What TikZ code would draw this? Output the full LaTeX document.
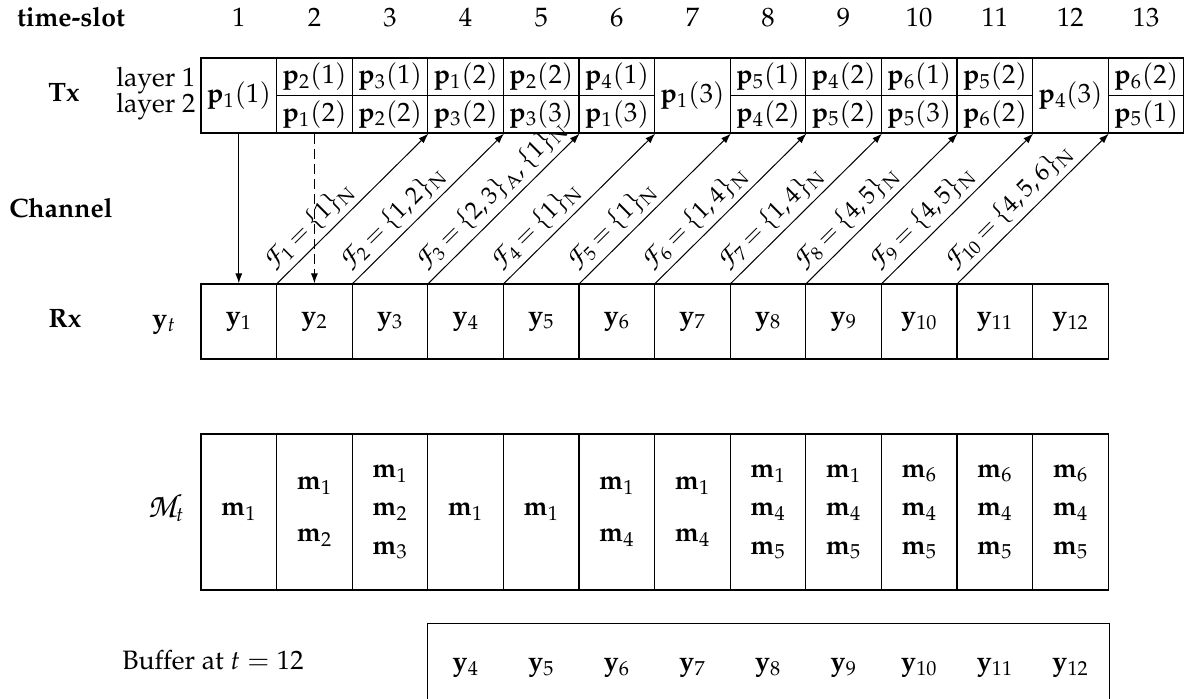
\documentclass[tikz,border=0pt]{standalone}
\usepackage[T1]{fontenc}
\usepackage{mathpazo}
\usetikzlibrary{arrows.meta}
\newcommand{\zc}[1]{\mbox{\fontsize{14.5}{14.5}\usefont{OT1}{pzc}{mb}{it}#1}}
\newcommand{\zcM}{\mbox{\fontsize{17}{17}\usefont{OT1}{pzc}{mb}{it}M}}
\newcommand{\pp}[2]{$\mathbf{p}_{#1}(#2)$}
\newcommand{\mm}[1]{$\mathbf{m}_{#1}$}
\newcommand{\yy}[1]{$\mathbf{y}_{#1}$}
\begin{document}
\begin{tikzpicture}[x=0.5pt,y=-0.5pt,line width=0.6pt,
  font=\fontsize{13.3}{16}\selectfont,
  cell/.style={draw, inner sep=0pt, minimum width=37.8pt, anchor=center},
  half/.style={cell, minimum height=18.75pt},
  full/.style={cell, minimum height=37.5pt},
  mcell/.style={cell, minimum height=78pt, align=center},
  two/.style={font=\fontsize{13.3}{26}\selectfont},
  three/.style={font=\fontsize{13.3}{19.25}\selectfont},
  lab/.style={inner sep=0pt, anchor=base},
  blab/.style={lab, font=\fontsize{13.3}{16}\selectfont\bfseries},
  flab/.style={sloped, anchor=south west, inner xsep=0pt, inner ysep=2.5pt, pos=0.03,
    font=\fontsize{12.2}{14}\selectfont},
  arr/.style={-{Latex[length=5pt,width=3.5pt]}, line width=0.5pt}]
\useasboundingbox (0,0) rectangle (1185,699);

% row labels
\node[blab] (ts) at (71,27) {time-slot};
\foreach \k in {1,...,13} \node[lab] (n\k) at ({201+75.6*(\k-0.5)},27) {\k};
\node[blab] (tx) at (64,102) {Tx};
\node[lab, anchor=base east] (l1) at (196,87) {layer 1};
\node[lab, anchor=base east] (l2) at (196,113) {layer 2};
\node[blab] (ch) at (61,218) {Channel};
\node[blab] (rxl) at (65,328) {Rx};
\node[lab] (yt) at (164,328) {$\mathbf{y}_t$};
\node[lab] (mt) at (166,518) {$\zcM_t$};
\node[lab] (bufl) at (213,670) {Buffer at $t=12$};

% Tx cells
\foreach \k/\a/\b/\c/\d in {2/2/1/1/2, 3/3/1/2/2, 4/1/2/3/2, 5/2/2/3/3, 6/4/1/1/3,
  8/5/1/4/2, 9/4/2/5/2, 10/6/1/5/3, 11/5/2/6/2, 13/6/2/5/1}{
  \node[half] (tt\k) at ({201+75.6*(\k-0.5)},76.75) {\pp{\a}{\b}};
  \node[half] (tb\k) at ({201+75.6*(\k-0.5)},114.25) {\pp{\c}{\d}};
}
\foreach \k/\a/\b in {1/1/1, 7/1/3, 12/4/3}{
  \node[full, alias=tt\k] (tb\k) at ({201+75.6*(\k-0.5)},95.5) {\pp{\a}{\b}};
}

% Rx cells
\foreach \k in {1,...,12}{
  \node[full] (rx\k) at ({201+75.6*(\k-0.5)},321.5) {\yy{\k}};
}

% M cells
\node[mcell] (m1) at ({201+75.6*0.5},512) {\mm1};
\node[mcell,two] (m2) at ({201+75.6*1.5},512) {\mm1\\\mm2};
\node[mcell,three] (m3) at ({201+75.6*2.5},512) {\mm1\\\mm2\\\mm3};
\node[mcell] (m4) at ({201+75.6*3.5},512) {\mm1};
\node[mcell] (m5) at ({201+75.6*4.5},512) {\mm1};
\node[mcell,two] (m6) at ({201+75.6*5.5},512) {\mm1\\\mm4};
\node[mcell,two] (m7) at ({201+75.6*6.5},512) {\mm1\\\mm4};
\node[mcell,three] (m8) at ({201+75.6*7.5},512) {\mm1\\\mm4\\\mm5};
\node[mcell,three] (m9) at ({201+75.6*8.5},512) {\mm1\\\mm4\\\mm5};
\node[mcell,three] (m10) at ({201+75.6*9.5},512) {\mm6\\\mm4\\\mm5};
\node[mcell,three] (m11) at ({201+75.6*10.5},512) {\mm6\\\mm4\\\mm5};
\node[mcell,three] (m12) at ({201+75.6*11.5},512) {\mm6\\\mm4\\\mm5};

% Buffer
\node[draw, inner sep=0pt, minimum width=340.8pt, minimum height=45pt] (buf) at (768.5,668.3) {};
\foreach \k in {4,...,12}{
  \node[lab] (b\k) at ({201+75.6*(\k-0.5)},671) {\yy{\k}};
}

% channel arrows
\draw[arr] (tb1.south) -- (rx1.north);
\draw[arr, dash pattern=on 5pt off 2.5pt] (tb2.south) -- (rx2.north);
\foreach \k/\t [evaluate=\k as \j using int(\k+2)] in {
  1/{\{1\}_{\mathrm{N}}},
  2/{\{1,2\}_{\mathrm{N}}},
  3/{\{2,3\}_{\mathrm{A}},\{1\}_{\mathrm{N}}},
  4/{\{1\}_{\mathrm{N}}},
  5/{\{1\}_{\mathrm{N}}},
  6/{\{1,4\}_{\mathrm{N}}},
  7/{\{1,4\}_{\mathrm{N}}},
  8/{\{4,5\}_{\mathrm{N}}},
  9/{\{4,5\}_{\mathrm{N}}},
  10/{\{4,5,6\}_{\mathrm{N}}}}{
  \draw[arr] (rx\k.north east) -- (tb\j.south east)
    node[flab] {$\thickmuskip=3.5mu\relax\zc{F}_{\k}=\t$};
}
\end{tikzpicture}
\end{document}
